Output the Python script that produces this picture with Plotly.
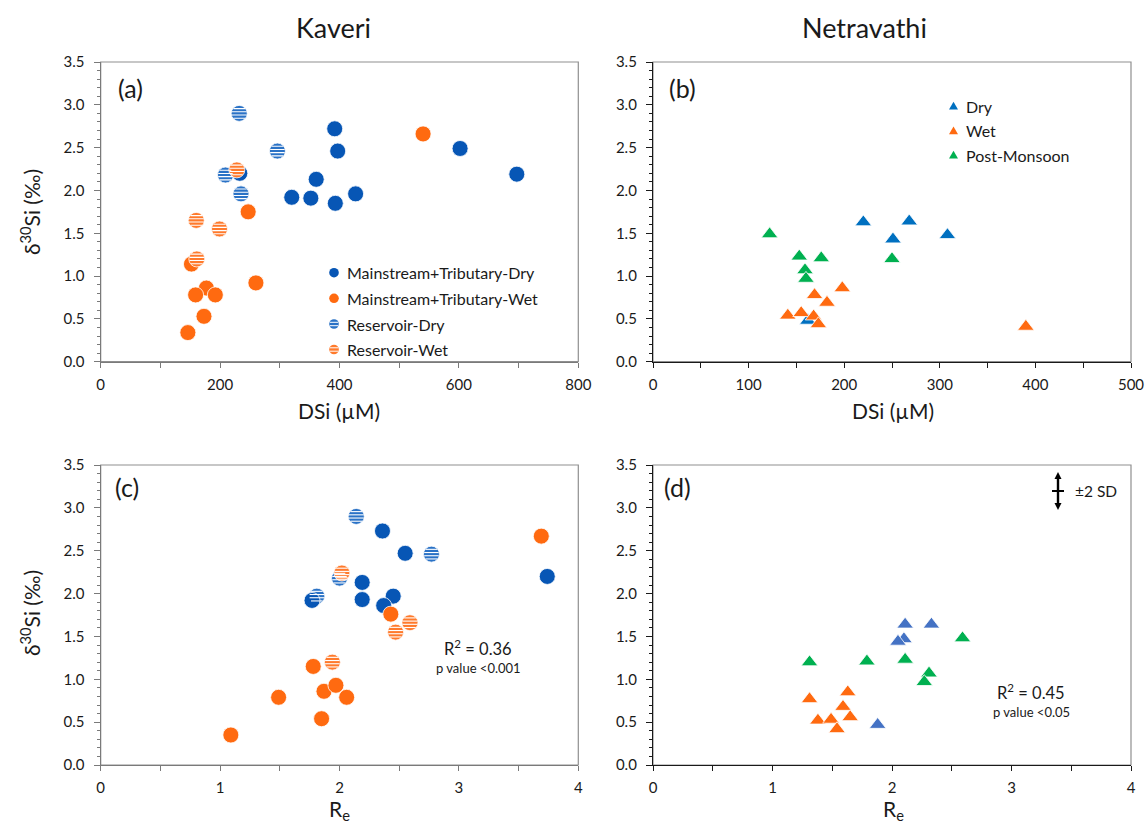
import math
import plotly.graph_objects as go

W, H = 1148, 823

# ---------------- data ----------------
# Panel (a): Kaveri, DSi vs d30Si
a_dry_x = [392, 397, 233, 361, 320, 352, 393, 427, 602, 697]
a_dry_y = [2.72, 2.46, 2.20, 2.13, 1.92, 1.91, 1.85, 1.96, 2.49, 2.19]
a_wet_x = [540, 247, 260, 152, 177, 159, 192, 173, 146]
a_wet_y = [2.66, 1.75, 0.92, 1.14, 0.86, 0.78, 0.78, 0.53, 0.34]
a_wet_err = [0.01, 0.01, 0.04, 0.05, 0.05, 0.06, 0.06, 0.06, 0.06]
a_resdry_x = [232, 296, 209, 235]
a_resdry_y = [2.90, 2.46, 2.18, 1.96]
a_resdry_err = [0.05, 0.05, 0.06, 0.05]
a_reswet_x = [228, 160, 199, 161]
a_reswet_y = [2.24, 1.65, 1.55, 1.20]
a_reswet_err = [0.06, 0.06, 0.06, 0.06]

# Panel (b): Netravathi, DSi vs d30Si
b_dry_x = [162, 220, 268, 251, 308]
b_dry_y = [0.48, 1.63, 1.64, 1.43, 1.48]
b_wet_x = [198, 169, 182, 141, 155, 168, 173, 390]
b_wet_y = [0.86, 0.78, 0.69, 0.54, 0.57, 0.53, 0.44, 0.41]
b_pm_x = [122, 153, 176, 159, 160, 250]
b_pm_y = [1.49, 1.23, 1.21, 1.07, 0.97, 1.20]

# Panel (c): Kaveri, Re vs d30Si
c_dry_x = [2.36, 2.55, 2.19, 2.19, 2.45, 2.37, 1.77, 3.74]
c_dry_y = [2.73, 2.47, 2.13, 1.93, 1.97, 1.86, 1.92, 2.20]
c_wet_x = [3.69, 2.43, 1.78, 1.49, 1.87, 1.97, 2.06, 1.85, 1.09]
c_wet_y = [2.67, 1.76, 1.15, 0.79, 0.86, 0.93, 0.79, 0.54, 0.35]
c_resdry_x = [2.14, 2.00, 1.81, 2.77]
c_resdry_y = [2.90, 2.18, 1.97, 2.46]
c_reswet_x = [2.02, 1.94, 2.47, 2.59]
c_reswet_y = [2.24, 1.20, 1.55, 1.66]

# Panel (d): Netravathi, Re vs d30Si
d_dry_x = [2.11, 2.33, 2.10, 2.05, 1.88]
d_dry_y = [1.64, 1.64, 1.47, 1.44, 0.47]
d_wet_x = [1.31, 1.63, 1.59, 1.65, 1.38, 1.49, 1.54]
d_wet_y = [0.77, 0.85, 0.68, 0.56, 0.52, 0.53, 0.42]
d_pm_x = [1.31, 1.79, 2.11, 2.59, 2.31, 2.27]
d_pm_y = [1.20, 1.21, 1.23, 1.48, 1.07, 0.97]

legend_a = ["Mainstream+Tributary-Dry", "Mainstream+Tributary-Wet",
            "Reservoir-Dry", "Reservoir-Wet"]
legend_b = ["Dry", "Wet", "Post-Monsoon"]
stats_c = ["R<sup>2</sup> = 0.36", "p value <0.001"]
stats_d = ["R<sup>2</sup> = 0.45", "p value <0.05"]

# ---------------- styles ----------------
FONT = "Lato, 'Open Sans', sans-serif"
BLUE = "#0756b5"
ORANGE = "#ff6a10"
BLUE_S = "#2a72c6"
ORANGE_S = "#ff7a2c"
TB = "#0070c0"
TO = "#ff6a10"
TG = "#00b050"
TB_D = "#4472c4"
TXT = "#1a1a1a"


def px(x):
    return x / W


def py(y):
    return 1 - y / H


fig = go.Figure()

CIRC = 16
TRI = 14.5


def circ(xs, ys, color, xa, ya, err=None):
    kw = {}
    if err is not None:
        kw["error_y"] = dict(type="data", array=err, visible=True,
                             color="#3a3a3a", thickness=1, width=2)
    fig.add_trace(go.Scatter(x=xs, y=ys, mode="markers", xaxis=xa, yaxis=ya,
                             showlegend=False, hoverinfo="x+y",
                             marker=dict(symbol="circle", size=CIRC, color=color,
                                         line=dict(color="white", width=0.8)),
                             **kw))


def tri(xs, ys, color, xa, ya):
    fig.add_trace(go.Scatter(x=xs, y=ys, mode="markers", xaxis=xa, yaxis=ya,
                             showlegend=False, hoverinfo="x+y",
                             marker=dict(symbol="triangle-up", size=TRI, color=color,
                                         line=dict(color="white", width=0.8))))


shapes = []


def stripes(xs, ys, xref, yref, r=CIRC / 2):
    for x, y in zip(xs, ys):
        for dy in (-4.8, -1.6, 1.6, 4.8):
            hw = math.sqrt(max(r * r - dy * dy, 0)) - 0.6
            shapes.append(dict(type="line", xref=xref, yref=yref,
                               xsizemode="pixel", ysizemode="pixel",
                               xanchor=x, yanchor=y, x0=-hw, x1=hw, y0=dy, y1=dy,
                               line=dict(color="white", width=1.1), layer="above"))


# panel (a)
circ(a_dry_x, a_dry_y, BLUE, "x", "y")
circ(a_wet_x, a_wet_y, ORANGE, "x", "y", a_wet_err)
circ(a_resdry_x, a_resdry_y, BLUE_S, "x", "y", a_resdry_err)
circ(a_reswet_x, a_reswet_y, ORANGE_S, "x", "y", a_reswet_err)
stripes(a_resdry_x, a_resdry_y, "x", "y")
stripes(a_reswet_x, a_reswet_y, "x", "y")

# panel (b)
tri(b_dry_x, b_dry_y, TB, "x2", "y2")
tri(b_wet_x, b_wet_y, TO, "x2", "y2")
tri(b_pm_x, b_pm_y, TG, "x2", "y2")

# panel (c)
circ(c_resdry_x, c_resdry_y, BLUE_S, "x3", "y3")
circ(c_dry_x, c_dry_y, BLUE, "x3", "y3")
circ(c_wet_x, c_wet_y, ORANGE, "x3", "y3")
circ(c_reswet_x, c_reswet_y, ORANGE_S, "x3", "y3")
stripes(c_resdry_x, c_resdry_y, "x3", "y3")
stripes(c_reswet_x, c_reswet_y, "x3", "y3")

# panel (d)
tri(d_pm_x, d_pm_y, TG, "x4", "y4")
tri(d_dry_x, d_dry_y, TB_D, "x4", "y4")
tri(d_wet_x, d_wet_y, TO, "x4", "y4")

# ---------------- axes ----------------
LEFT_X = [100.7, 578.3]
RIGHT_X = [653, 1131]
TOP_Y = [62, 361.7]
BOT_Y = [465, 765]


def xdom(p):
    return [px(p[0]), px(p[1])]


def ydom(p):
    return [py(p[1]), py(p[0])]


def xax(dom, rng, tickvals, minor_dt, anchor, lc):
    return dict(domain=xdom(dom), range=rng, anchor=anchor, tickvals=tickvals,
                ticks="outside", ticklen=5, tickwidth=1, tickcolor=lc,
                minor=dict(dtick=minor_dt, ticks="outside", ticklen=5, tickcolor=lc,
                           tick0=0, showgrid=False),
                showline=True, linecolor=lc, linewidth=1.3, showgrid=False,
                zeroline=False, tickfont=dict(family=FONT, size=15, color=TXT),
                fixedrange=True, automargin=False, ticklabelstandoff=4)


def yax(dom, anchor, lc):
    return dict(domain=ydom(dom), range=[0, 3.5], anchor=anchor, dtick=0.5, tick0=0,
                tickformat=".1f", ticks="outside", ticklen=6, tickwidth=1, tickcolor=lc,
                minor=dict(dtick=0.1, ticks="outside", ticklen=3, tickcolor=lc,
                           tick0=0, showgrid=False),
                showline=True, linecolor=lc, linewidth=1.3, showgrid=False,
                zeroline=False, tickfont=dict(family=FONT, size=15, color=TXT),
                fixedrange=True, ticklabelstandoff=6, automargin=False)


GRAY = "#7a7a7a"
BLK = "#1a1a1a"

layout = dict(
    width=W, height=H, margin=dict(l=0, r=0, t=0, b=0, autoexpand=False),
    paper_bgcolor="white", plot_bgcolor="white", showlegend=False,
    xaxis=xax(LEFT_X, [0, 800], [0, 200, 400, 600, 800], 100, "y", GRAY),
    yaxis=yax(TOP_Y, "x", GRAY),
    xaxis2=xax(RIGHT_X, [0, 500], [0, 100, 200, 300, 400, 500], 50, "y2", BLK),
    yaxis2=yax(TOP_Y, "x2", BLK),
    xaxis3=xax(LEFT_X, [0, 4], [0, 1, 2, 3, 4], 0.5, "y3", GRAY),
    yaxis3=yax(BOT_Y, "x3", GRAY),
    xaxis4=xax(RIGHT_X, [0, 4], [0, 1, 2, 3, 4], 0.5, "y4", BLK),
    yaxis4=yax(BOT_Y, "x4", BLK),
)

# frames (top/right edges in gray)
for xr, yr in (("x", "y"), ("x2", "y2"), ("x3", "y3"), ("x4", "y4")):
    shapes.append(dict(type="rect", xref=xr + " domain", yref=yr + " domain",
                       x0=0, x1=1, y0=0, y1=1, line=dict(color="#8f8f8f", width=1.2),
                       layer="below"))

annotations = []


def text(x, y, s, size, anchor="center", angle=0, color=TXT):
    annotations.append(dict(x=px(x), y=py(y), xref="paper", yref="paper", text=s,
                            showarrow=False, xanchor=anchor, yanchor="middle",
                            textangle=angle,
                            font=dict(family=FONT, size=size, color=color)))


# titles
text(333, 28, "Kaveri", 27)
text(864, 28, "Netravathi", 27)
# axis titles
text(339, 410, "DSi (µM)", 21)
text(893, 410, "DSi (µM)", 21)
text(339, 810, "R<sub>e</sub>", 21)
text(893, 810, "R<sub>e</sub>", 21)
text(30, 212, "δ<sup>30</sup>Si (‰)", 21, angle=-90)
text(30, 613, "δ<sup>30</sup>Si (‰)", 21, angle=-90)
# panel letters
text(116, 88, "(a)", 25, "left")
text(667, 88, "(b)", 25, "left")
text(113, 487, "(c)", 25, "left")
text(662, 487, "(d)", 25, "left")
# stats
text(478, 648, stats_c[0], 16.5)
text(478, 668, stats_c[1], 13)
text(1031, 692, stats_d[0], 16.5)
text(1031, 712, stats_d[1], 13)

# legend (a)
leg_cols = [BLUE, ORANGE, BLUE_S, ORANGE_S]
leg_rows = [272.7, 298.3, 324, 349.5]
for i, (lab, col, yy) in enumerate(zip(legend_a, leg_cols, leg_rows)):
    shapes.append(dict(type="circle", xref="paper", yref="paper",
                       xsizemode="pixel", ysizemode="pixel",
                       xanchor=px(334), yanchor=py(yy), x0=-4.8, x1=4.8, y0=-4.8, y1=4.8,
                       fillcolor=col, line=dict(color=col, width=0)))
    if i >= 2:
        for dy in (-1.7, 1.7):
            shapes.append(dict(type="line", xref="paper", yref="paper",
                               xsizemode="pixel", ysizemode="pixel",
                               xanchor=px(334), yanchor=py(yy), x0=-4.2, x1=4.2,
                               y0=dy, y1=dy, line=dict(color="white", width=1)))
    text(345, yy, lab, 16, "left")

# legend (b)
leg_b_cols = [TB, TO, TG]
leg_b_rows = [106, 130.7, 155]
for lab, col, yy in zip(legend_b, leg_b_cols, leg_b_rows):
    shapes.append(dict(type="path", xref="paper", yref="paper",
                       xsizemode="pixel", ysizemode="pixel",
                       xanchor=px(953.5), yanchor=py(yy),
                       path="M-4.5,-3.5 L4.5,-3.5 L0,4.3 Z",
                       fillcolor=col, line=dict(color=col, width=0)))
    text(964, yy, lab, 16, "left")

# +-2 SD indicator (d): vertical double arrow with a centre tick
SDX, SDY = px(1058), py(491)
shapes.append(dict(type="line", xref="paper", yref="paper",
                   xsizemode="pixel", ysizemode="pixel", xanchor=SDX, yanchor=SDY,
                   x0=0, x1=0, y0=-13, y1=13, line=dict(color="black", width=2.4)))
shapes.append(dict(type="path", xref="paper", yref="paper",
                   xsizemode="pixel", ysizemode="pixel", xanchor=SDX, yanchor=SDY,
                   path="M-3.5,12 L3.5,12 L0,19 Z", fillcolor="black",
                   line=dict(color="black", width=0)))
shapes.append(dict(type="path", xref="paper", yref="paper",
                   xsizemode="pixel", ysizemode="pixel", xanchor=SDX, yanchor=SDY,
                   path="M-3.5,-12 L3.5,-12 L0,-19 Z", fillcolor="black",
                   line=dict(color="black", width=0)))
shapes.append(dict(type="line", xref="paper", yref="paper",
                   xsizemode="pixel", ysizemode="pixel", xanchor=SDX, yanchor=SDY,
                   x0=-6, x1=6, y0=0, y1=0, line=dict(color="black", width=2)))
text(1073, 491, "±2 SD", 15.5, "left")

layout["shapes"] = shapes
layout["annotations"] = annotations
fig.update_layout(**layout)

fig.write_html("out.html",
               config={"displayModeBar": False},
               post_script="document.body.style.margin='0';"
                           "document.body.style.overflow='hidden';")
